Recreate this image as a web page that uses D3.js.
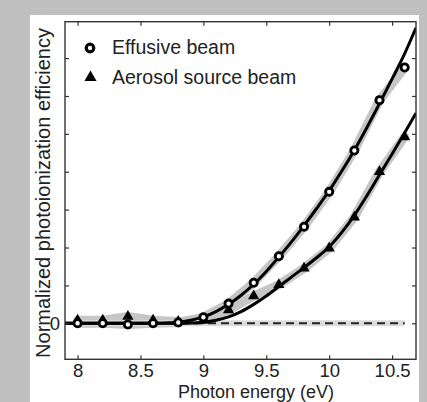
<!DOCTYPE html>
<html><head><meta charset="utf-8">
<script src="https://cdn.jsdelivr.net/npm/d3@7"></script>
<style>body{margin:0;background:#c0c0c0;} svg{display:block;}</style>
</head><body>
<svg id="chart" width="427" height="402"></svg>
<script>
// ---- data ----
const energies = [8.0, 8.2, 8.4, 8.6, 8.8, 9.0, 9.2, 9.4, 9.6, 9.8, 10.0, 10.2, 10.4, 10.6];
const effusive = [0.0, 0.0, -0.03, 0.0, 0.02, 0.16, 0.52, 1.07, 1.77, 2.55, 3.47, 4.56, 5.89, 6.75];
const aerosol  = [0.08, 0.08, 0.18, 0.08, 0.05, 0.08, 0.35, 0.72, 1.02, 1.45, 1.98, 2.80, 4.00, 4.92];
const fitEnergies = [7.9, 8.6, 8.7, 8.8, 8.9, 9.0, 9.1, 9.2, 9.3, 9.4, 9.5, 9.6, 9.7, 9.8, 9.9, 10.0, 10.1, 10.2, 10.3, 10.4, 10.5, 10.6, 10.69];
const effusiveFit = [0, 0, 0.005, 0.03, 0.08, 0.17, 0.31, 0.5, 0.74, 1.03, 1.37, 1.75, 2.15, 2.58, 3.03, 3.5, 4.02, 4.57, 5.17, 5.8, 6.45, 7.12, 7.8];
const aerosolFit  = [0, 0, 0, 0, 0.005, 0.03, 0.08, 0.17, 0.31, 0.5, 0.72, 0.97, 1.22, 1.47, 1.73, 2.02, 2.4, 2.85, 3.37, 3.92, 4.47, 5.03, 5.55];
const xTicks = [8, 8.5, 9, 9.5, 10, 10.5];
const xTickLabels = ["8", "8.5", "9", "9.5", "10", "10.5"];
const yTicks = [0, 1, 2, 3, 4, 5, 6, 7];
const yTickLabels = ["0", "", "", "", "", "", "", ""];
const seriesNames = ["Effusive beam", "Aerosol source beam"];
const xTitle = "Photon energy (eV)";
const yTitle = "Normalized photoionization efficiency";

// ---- drawing ----
const FONT = "'Liberation Sans', Arial, Helvetica, sans-serif";
const svg = d3.select("#chart");
svg.append("rect").attr("x", 0).attr("y", 0).attr("width", 427).attr("height", 402).attr("fill", "#c0c0c0");
svg.append("rect").attr("x", 30).attr("y", 15).attr("width", 389).attr("height", 387).attr("fill", "#ffffff");

const L = 65, R = 416, T = 21.7, B = 359.3;
const x = d3.scaleLinear().domain([7.9, 10.69]).range([L, R]);
const y = d3.scaleLinear().domain([-0.95, 7.96]).range([B, T]);

svg.append("clipPath").attr("id", "plotclip")
  .append("rect").attr("x", L).attr("y", T).attr("width", R - L).attr("height", B - T);
const plot = svg.append("g").attr("clip-path", "url(#plotclip)");

const line = d3.line().x(d => x(d[0])).y(d => y(d[1]));
const smooth = d3.line().x(d => x(d[0])).y(d => y(d[1])).curve(d3.curveMonotoneX);

// gray bands through data
const effPts = energies.map((e, i) => [e, effusive[i]]);
const aerPts = energies.map((e, i) => [e, aerosol[i]]);
[effPts, aerPts].forEach(pts => {
  plot.append("path").attr("d", line(pts)).attr("fill", "none")
    .attr("stroke", "#c6c6c6").attr("stroke-width", 9)
    .attr("stroke-linejoin", "round").attr("stroke-linecap", "round");
});
// gray band along zero
plot.append("path").attr("d", line([[8.0, 0], [10.6, 0]])).attr("fill", "none")
  .attr("stroke", "#dcdcdc").attr("stroke-width", 6);

// dashed zero line
plot.append("path").attr("d", line([[7.9, 0], [10.6, 0]])).attr("fill", "none")
  .attr("stroke", "#222").attr("stroke-width", 2).attr("stroke-dasharray", "8,5");

// fit curves
[effusiveFit, aerosolFit].forEach(vals => {
  plot.append("path").attr("d", smooth(fitEnergies.map((e, i) => [e, vals[i]])))
    .attr("fill", "none").attr("stroke", "#000").attr("stroke-width", 3);
});

// markers
const tri = d3.symbol().type(d3.symbolTriangle).size(55);
plot.selectAll(".tri").data(aerPts).join("path").attr("class", "tri")
  .attr("d", tri).attr("transform", d => `translate(${x(d[0])},${y(d[1])})`).attr("fill", "#000");
plot.selectAll(".circ").data(effPts).join("circle").attr("class", "circ")
  .attr("cx", d => x(d[0])).attr("cy", d => y(d[1])).attr("r", 3.6)
  .attr("fill", "#fff").attr("stroke", "#000").attr("stroke-width", 2.8);

// axes
function styleAxis(g) {
  g.selectAll(".domain").remove();
  g.selectAll(".tick line").attr("stroke", "#333").attr("stroke-width", 1.2);
  g.selectAll(".tick text").attr("fill", "#222").style("font-family", FONT).style("font-size", "18.5px");
}
svg.append("g").attr("transform", `translate(0,${B})`)
  .call(d3.axisBottom(x).tickValues(xTicks).tickFormat((d, i) => xTickLabels[i]).tickSizeInner(-4).tickSizeOuter(0).tickPadding(5))
  .call(styleAxis);
svg.append("g").attr("transform", `translate(0,${T})`)
  .call(d3.axisTop(x).tickValues(xTicks).tickFormat("").tickSizeInner(-4).tickSizeOuter(0))
  .call(styleAxis);
svg.append("g").attr("transform", `translate(${L},0)`)
  .call(d3.axisLeft(y).tickValues(yTicks).tickFormat((d, i) => yTickLabels[i]).tickSizeInner(-4).tickSizeOuter(0).tickPadding(5))
  .call(styleAxis);
svg.append("g").attr("transform", `translate(${R},0)`)
  .call(d3.axisRight(y).tickValues(yTicks).tickFormat("").tickSizeInner(-4).tickSizeOuter(0))
  .call(styleAxis);

// frame
svg.append("rect").attr("x", L).attr("y", T).attr("width", R - L).attr("height", B - T)
  .attr("fill", "none").attr("stroke", "#333").attr("stroke-width", 1.4);

// legend
const leg = svg.append("g");
leg.append("circle").attr("cx", 90).attr("cy", 48).attr("r", 3.8)
  .attr("fill", "#fff").attr("stroke", "#000").attr("stroke-width", 3.2);
leg.append("path").attr("d", d3.symbol().type(d3.symbolTriangle).size(64)())
  .attr("transform", "translate(90.5,77.5)").attr("fill", "#000");
leg.selectAll("text").data(seriesNames).join("text")
  .attr("x", 112).attr("y", (d, i) => 54 + i * 29.5)
  .attr("fill", "#222").style("font-family", FONT).style("font-size", "19.5px")
  .text(d => d);

// titles
svg.append("text").attr("x", 256).attr("y", 398).attr("text-anchor", "middle")
  .attr("fill", "#222").style("font-family", FONT).style("font-size", "18px").text(xTitle);
svg.append("text").attr("transform", "translate(50,193) rotate(-90)").attr("text-anchor", "middle")
  .attr("fill", "#222").style("font-family", FONT).style("font-size", "20px").text(yTitle);
</script>
</body></html>
